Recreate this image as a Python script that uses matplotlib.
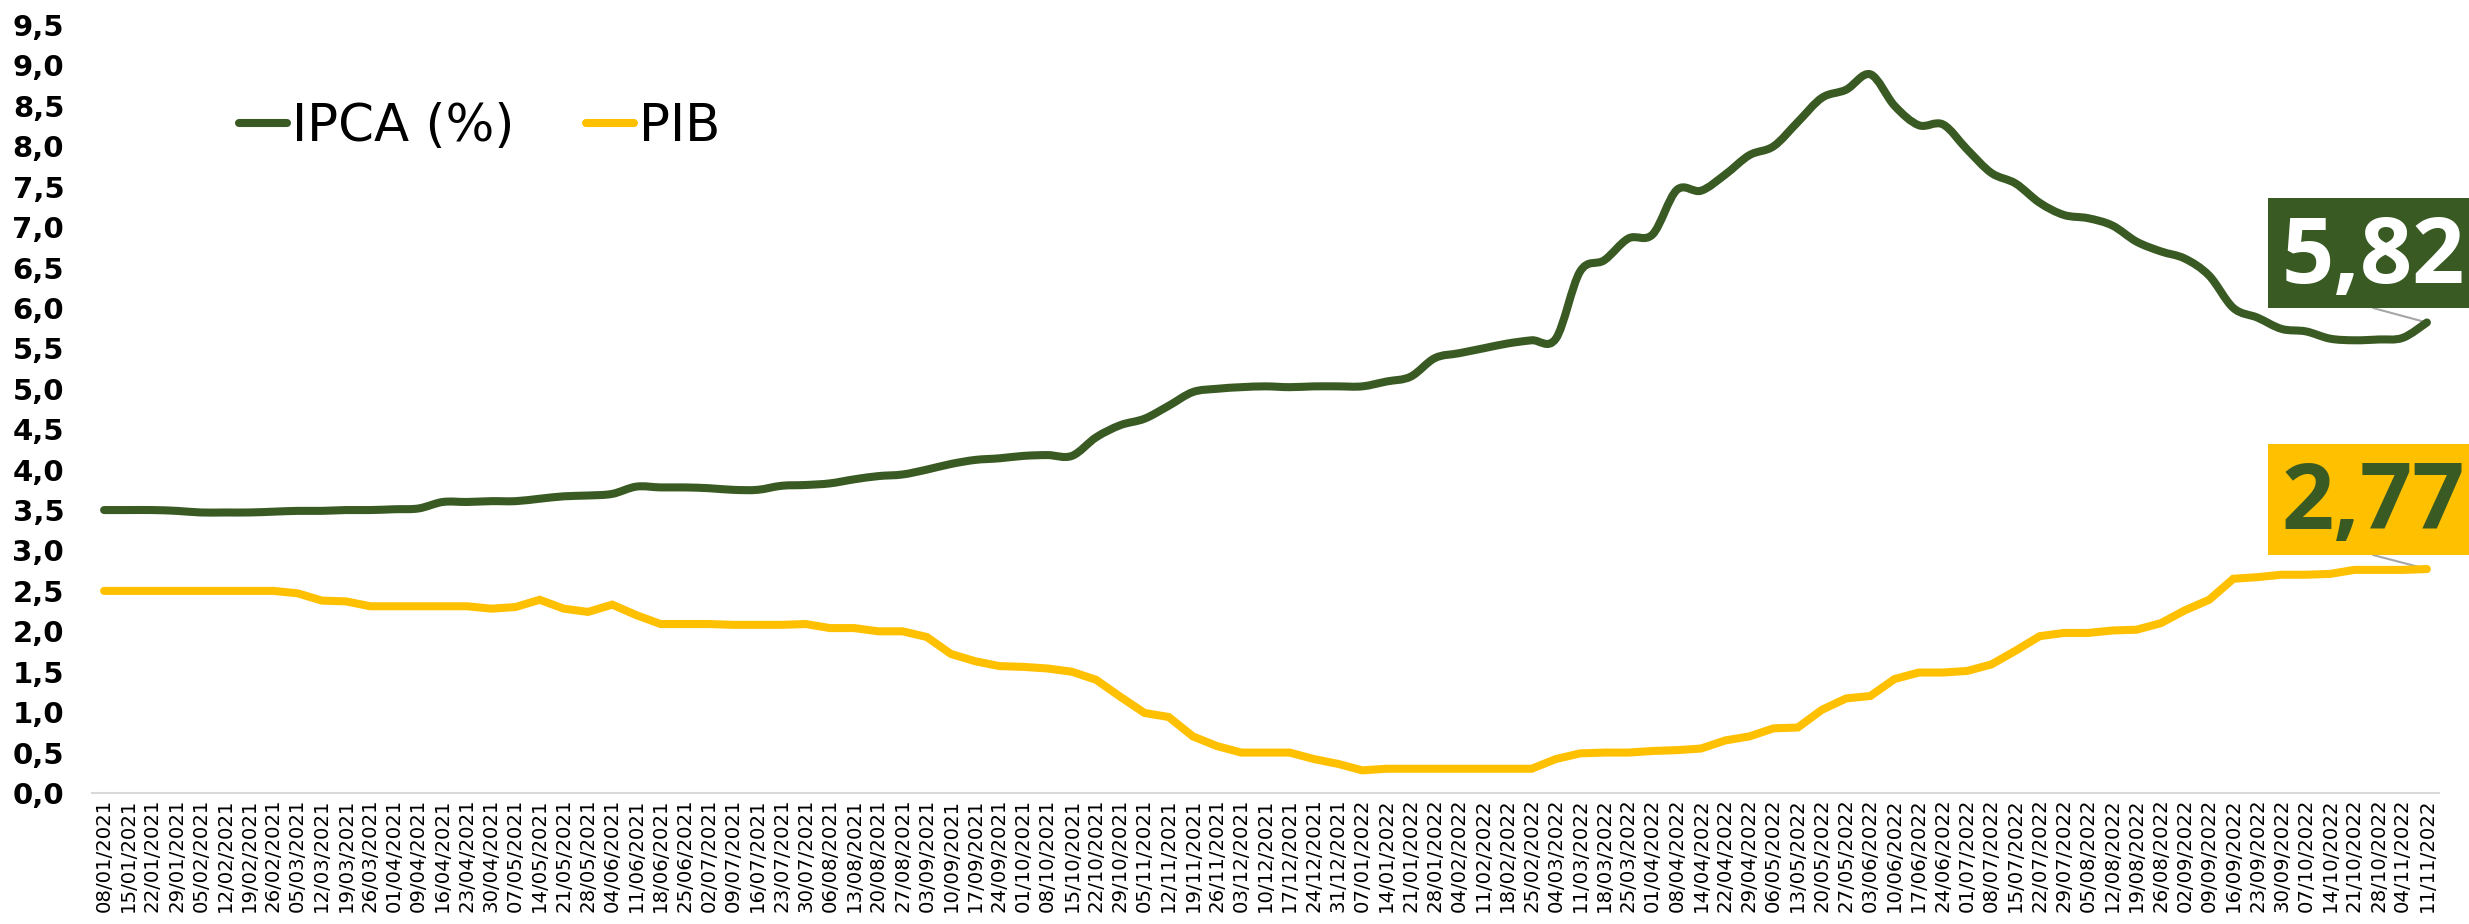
import numpy as np
import matplotlib
matplotlib.use("Agg")
import matplotlib.pyplot as plt
from matplotlib.path import Path
from matplotlib.patches import PathPatch, Rectangle
from matplotlib.lines import Line2D
from matplotlib.ticker import FuncFormatter

# weekly Focus expectations for 2022
dates = ['08/01/2021','15/01/2021','22/01/2021','29/01/2021','05/02/2021','12/02/2021','19/02/2021','26/02/2021',
         '05/03/2021','12/03/2021','19/03/2021','26/03/2021','01/04/2021','09/04/2021','16/04/2021','23/04/2021',
         '30/04/2021','07/05/2021','14/05/2021','21/05/2021','28/05/2021','04/06/2021','11/06/2021','18/06/2021',
         '25/06/2021','02/07/2021','09/07/2021','16/07/2021','23/07/2021','30/07/2021','06/08/2021','13/08/2021',
         '20/08/2021','27/08/2021','03/09/2021','10/09/2021','17/09/2021','24/09/2021','01/10/2021','08/10/2021',
         '15/10/2021','22/10/2021','29/10/2021','05/11/2021','12/11/2021','19/11/2021','26/11/2021','03/12/2021',
         '10/12/2021','17/12/2021','24/12/2021','31/12/2021','07/01/2022','14/01/2022','21/01/2022','28/01/2022',
         '04/02/2022','11/02/2022','18/02/2022','25/02/2022','04/03/2022','11/03/2022','18/03/2022','25/03/2022',
         '01/04/2022','08/04/2022','14/04/2022','22/04/2022','29/04/2022','06/05/2022','13/05/2022','20/05/2022',
         '27/05/2022','03/06/2022','10/06/2022','17/06/2022','24/06/2022','01/07/2022','08/07/2022','15/07/2022',
         '22/07/2022','29/07/2022','05/08/2022','12/08/2022','19/08/2022','26/08/2022','02/09/2022','09/09/2022',
         '16/09/2022','23/09/2022','30/09/2022','07/10/2022','14/10/2022','21/10/2022','28/10/2022','04/11/2022',
         '11/11/2022']

ipca = [3.50, 3.50, 3.50, 3.49, 3.47, 3.47, 3.47, 3.48, 3.49, 3.49,
        3.50, 3.50, 3.51, 3.52, 3.60, 3.60, 3.61, 3.61, 3.64, 3.67,
        3.68, 3.70, 3.79, 3.78, 3.78, 3.77, 3.75, 3.75, 3.80, 3.81,
        3.83, 3.88, 3.92, 3.94, 4.00, 4.07, 4.12, 4.14, 4.17, 4.18,
        4.17, 4.40, 4.55, 4.63, 4.79, 4.96, 5.00, 5.02, 5.03, 5.02,
        5.03, 5.03, 5.03, 5.09, 5.15, 5.38, 5.44, 5.50, 5.56, 5.60,
        5.62, 6.45, 6.59, 6.86, 6.91, 7.46, 7.45, 7.65, 7.89, 8.00,
        8.30, 8.60, 8.70, 8.89, 8.50, 8.26, 8.27, 7.96, 7.67, 7.54,
        7.30, 7.15, 7.11, 7.02, 6.82, 6.70, 6.61, 6.40, 6.00, 5.88,
        5.74, 5.71, 5.62, 5.60, 5.61, 5.63, 5.82]

pib = [2.50, 2.50, 2.50, 2.50, 2.50, 2.50, 2.50, 2.50, 2.47, 2.38,
       2.37, 2.31, 2.31, 2.31, 2.31, 2.31, 2.28, 2.30, 2.39, 2.28,
       2.24, 2.33, 2.20, 2.09, 2.09, 2.09, 2.08, 2.08, 2.08, 2.09,
       2.04, 2.04, 2.00, 2.00, 1.93, 1.72, 1.63, 1.57, 1.56, 1.54,
       1.50, 1.40, 1.19, 0.99, 0.94, 0.70, 0.58, 0.50, 0.50, 0.50,
       0.42, 0.36, 0.28, 0.30, 0.30, 0.30, 0.30, 0.30, 0.30, 0.30,
       0.42, 0.49, 0.50, 0.50, 0.52, 0.53, 0.55, 0.65, 0.70, 0.80,
       0.81, 1.03, 1.17, 1.20, 1.41, 1.49, 1.49, 1.51, 1.59, 1.76,
       1.94, 1.98, 1.98, 2.01, 2.02, 2.10, 2.26, 2.39, 2.65, 2.67,
       2.70, 2.70, 2.71, 2.76, 2.76, 2.76, 2.77]

GREEN = '#3a5a24'
YELLOW = '#ffc000'
W, H = 2469, 924
LW = 5.8


def smooth(xs, ys):
    # excel-like smoothed line (catmull-rom as cubic bezier)
    p = np.column_stack([xs, ys]).astype(float)
    n = len(p)
    verts = [p[0]]
    codes = [Path.MOVETO]
    for i in range(n - 1):
        p0 = p[i - 1] if i > 0 else p[i]
        p3 = p[i + 2] if i + 2 < n else p[i + 1]
        c1 = p[i] + (p[i + 1] - p0) / 6.0
        c2 = p[i + 1] - (p3 - p[i]) / 6.0
        verts += [c1, c2, p[i + 1]]
        codes += [Path.CURVE4] * 3
    return Path(verts, codes)


fig = plt.figure(figsize=(W / 100, H / 100), dpi=100)
ax = fig.add_axes([92 / W, 1 - 793 / H, (2439 - 92) / W, (793 - 25) / H])

x = np.arange(len(dates))
ax.plot(x, pib, color=YELLOW, lw=LW, solid_capstyle='round', solid_joinstyle='miter', zorder=3)
ax.add_patch(PathPatch(smooth(x, ipca), fill=False, edgecolor=GREEN, lw=LW,
                       capstyle='round', joinstyle='round', zorder=4))

ax.set_xlim(-0.5, len(dates) - 0.5)
ax.set_ylim(0, 9.5)
ax.set_yticks(np.arange(0, 9.51, 0.5))
ax.yaxis.set_major_formatter(FuncFormatter(lambda v, p: f"{v:.1f}".replace('.', ',')))
for t in ax.get_yticklabels():
    t.set_fontweight('bold')
ax.tick_params(axis='y', length=0, pad=20, labelsize=21)
ax.set_xticks(x)
ax.set_xticklabels(dates, rotation=90, fontsize=14.2)
ax.tick_params(axis='x', length=0, pad=4)

for s in ['top', 'right', 'left']:
    ax.spines[s].set_visible(False)
ax.spines['bottom'].set_color('#d9d9d9')
ax.spines['bottom'].set_linewidth(1.5)

handles = [Line2D([0], [0], color=GREEN, lw=LW, solid_capstyle='round'),
           Line2D([0], [0], color=YELLOW, lw=LW, solid_capstyle='round')]
fig.legend(handles, ['IPCA (%)', 'PIB'], loc='center left', bbox_to_anchor=(239 / W, 1 - 127 / H),
           ncol=2, frameon=False, fontsize=37, handlelength=0.93, handletextpad=0.1,
           columnspacing=1.4, borderpad=0, borderaxespad=0)


def label(val, fc, tc, top, bottom):
    txt = f"{val:.2f}".replace('.', ',')
    fig.add_artist(Rectangle((2268 / W, 1 - bottom / H), 220 / W, (bottom - top) / H,
                             transform=fig.transFigure, facecolor=fc, edgecolor='none', zorder=5))
    fig.text(2373 / W, 1 - (top + 0.77 * (bottom - top)) / H, txt, ha='center', va='baseline',
             fontsize=66, fontweight='bold', family=['Open Sans', 'DejaVu Sans'], color=tc, zorder=6)
    ax.annotate('', xy=(len(dates) - 1, val), xycoords='data',
                xytext=(2373 / W, 1 - bottom / H), textcoords='figure fraction',
                arrowprops=dict(arrowstyle='-', color='#a6a6a6', lw=1.5, shrinkA=0, shrinkB=0),
                zorder=2, annotation_clip=False)


label(ipca[-1], GREEN, 'white', 198, 308)
label(pib[-1], YELLOW, GREEN, 444, 555)

fig.savefig('out.png', dpi=100)
